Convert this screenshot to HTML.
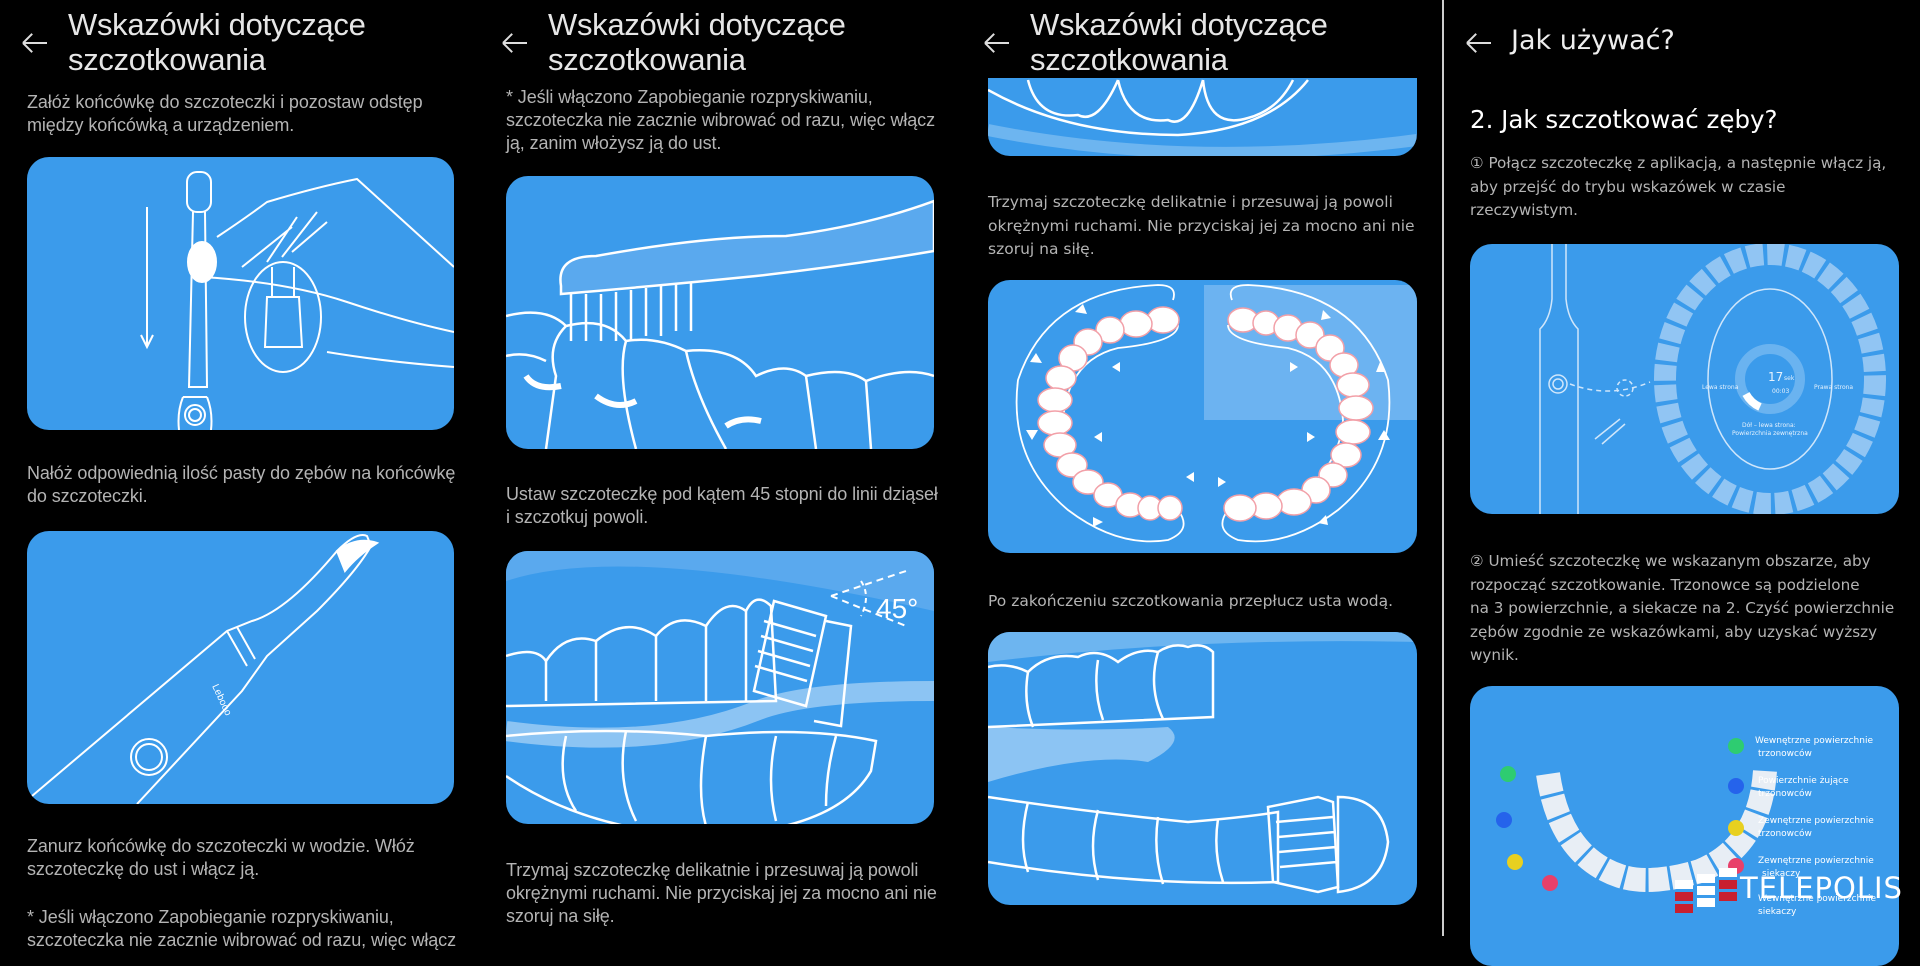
<!DOCTYPE html>
<html><head><meta charset="utf-8"><style>
*{margin:0;padding:0;box-sizing:border-box}
body{width:1920px;height:936px;background:#000;position:relative;overflow:hidden;font-family:"Liberation Sans",sans-serif}
.a{position:absolute;white-space:nowrap}
.t{color:#e6e6e6;font-size:31px;line-height:35px;letter-spacing:-0.3px}
.n{color:#b4b4b4;font-size:18px;line-height:23px;letter-spacing:-0.1px}
.w{color:#b4b4b4;font-family:"DejaVu Sans",sans-serif;font-size:15.5px;line-height:23.5px}
.c{position:absolute;background:#3b9beb;border-radius:22px;overflow:hidden}
.c svg{position:absolute;left:0;top:0}
.ar{position:absolute;width:24px;height:2px;background:#ddd}
.ar:before,.ar:after{content:"";position:absolute;left:0;width:13px;height:2px;background:#ddd;transform-origin:0 50%}
.ar:before{transform:rotate(-45deg)}.ar:after{transform:rotate(45deg)}
</style></head><body>

<!-- column 1 -->
<div class="ar" style="left:23px;top:42px"></div>
<div class="a t" style="left:68px;top:7px">Wskazówki dotyczące<br>szczotkowania</div>
<div class="a n" style="left:27px;top:91px">Załóż końcówkę do szczoteczki i pozostaw odstęp<br>między końcówką a urządzeniem.</div>
<div class="c" style="left:27px;top:157px;width:427px;height:273px">
<svg width="427" height="273" fill="none" stroke="#fff" stroke-width="2">
<path d="M120 50 V190 M114 178 L120 190 L126 178"/>
<rect x="160" y="15" width="24" height="40" rx="10"/>
<path d="M166 55 L162 230 H180 L178 55"/>
<path d="M156 240 Q150 255 152 273 M180 240 Q186 255 184 273 M156 240 H180"/>
<circle cx="168" cy="258" r="10"/><circle cx="168" cy="258" r="6"/>
<path d="M190 80 Q220 60 240 45 Q290 30 330 22 L427 110"/>
<path d="M215 110 Q240 90 265 70 M240 105 L270 60 M255 100 L290 55 M265 95 L300 65"/>
<path d="M175 120 Q260 125 320 145 Q380 165 427 175"/>
<path d="M300 195 Q360 205 427 210"/>
<ellipse cx="175" cy="105" rx="14" ry="20" fill="#fff"/>
<ellipse cx="256" cy="160" rx="38" ry="55"/>
<path d="M245 110 V140 M267 110 V140 M240 140 H272 L275 190 H238 Z"/>
</svg></div>
<div class="a n" style="left:27px;top:462px">Nałóż odpowiednią ilość pasty do zębów na końcówkę<br>do szczoteczki.</div>
<div class="c" style="left:27px;top:531px;width:427px;height:273px">
<svg width="427" height="273" fill="none" stroke="#fff" stroke-width="2">
<path d="M5 265 L200 100 L225 90 Q260 80 310 20 Q330 0 340 5 L344 15 Q330 40 290 80 L240 125 L215 160 L110 273"/>
<path d="M200 100 L220 135 M210 96 L228 128"/>
<circle cx="122" cy="226" r="18"/><circle cx="122" cy="226" r="13"/>
<path d="M310 20 Q330 5 350 12 Q330 25 318 40 Z" fill="#fff"/>
<text x="185" y="155" fill="#fff" stroke="none" font-size="10" transform="rotate(65 185 155)">Lebooo</text>
</svg></div>
<div class="a n" style="left:27px;top:835px">Zanurz końcówkę do szczoteczki w wodzie. Włóż<br>szczoteczkę do ust i włącz ją.</div>
<div class="a n" style="left:27px;top:906px">* Jeśli włączono Zapobieganie rozpryskiwaniu,<br>szczoteczka nie zacznie wibrować od razu, więc włącz</div>

<!-- column 2 -->
<div class="ar" style="left:503px;top:42px"></div>
<div class="a t" style="left:548px;top:7px">Wskazówki dotyczące<br>szczotkowania</div>
<div class="a n" style="left:506px;top:86px">* Jeśli włączono Zapobieganie rozpryskiwaniu,<br>szczoteczka nie zacznie wibrować od razu, więc włącz<br>ją, zanim włożysz ją do ust.</div>
<div class="c" style="left:506px;top:176px;width:428px;height:273px">
<svg width="428" height="273" fill="none" stroke="#fff" stroke-width="2.5">
<path d="M55 110 Q50 80 90 80 Q200 60 280 60 Q360 50 428 25 V75 Q340 90 250 100 Q150 110 55 118 Z" fill="#5aa9ee"/>
<path d="M65 118 V165 M80 118 V165 M95 118 V165 M110 116 V165 M125 114 V165 M140 112 V160 M155 110 V160 M170 108 V155 M185 106 V155"/>
<path d="M0 140 Q40 130 60 150 Q40 170 50 200 L40 273 M0 180 Q20 175 40 185"/>
<path d="M60 150 Q100 140 120 165 Q150 160 180 175 Q230 170 250 200 Q280 185 300 200 L310 273 M120 165 Q110 200 130 273 M180 175 Q190 220 220 273"/>
<path d="M300 200 Q340 190 360 205 Q400 190 428 200 M360 205 L365 273"/>
<path d="M20 200 Q30 215 55 210" stroke-width="6"/><path d="M90 220 Q110 235 130 225" stroke-width="6"/><path d="M220 250 Q235 240 255 245" stroke-width="6"/>
</svg></div>
<div class="a n" style="left:506px;top:483px">Ustaw szczoteczkę pod kątem 45 stopni do linii dziąseł<br>i szczotkuj powoli.</div>
<div class="c" style="left:506px;top:551px;width:428px;height:273px">
<svg width="428" height="273" fill="none" stroke="#fff" stroke-width="2.5">
<path d="M0 30 Q120 -10 428 60 V0 H0Z" fill="#5aa9ee" stroke="none"/>
<path d="M0 180 Q150 200 250 160 Q300 140 428 140" stroke="#8cc4f3" stroke-width="20"/>
<path d="M0 105 Q30 95 40 110 Q60 80 90 90 Q120 65 150 85 Q170 60 200 75 Q220 45 240 60 Q250 40 265 55 L270 150 L0 155"/>
<path d="M40 110 V150 M90 90 V150 M150 85 V150 M200 75 V150 M240 60 V150"/>
<path d="M0 185 Q100 175 200 185 Q300 175 370 190 L365 220 Q330 280 200 285 Q80 280 0 225"/>
<path d="M60 185 Q50 230 70 260 M120 180 Q110 230 130 270 M200 185 Q190 240 200 275 M270 185 Q260 230 270 270 M330 185 Q320 220 320 255"/>
<path d="M268 50 L248 140 L300 155 L320 65 Z M258 70 L310 85 M255 85 L307 100 M252 100 L304 115 M249 115 L301 130"/>
<path d="M320 70 L345 75 L335 175 L308 170"/>
<path d="M325 45 L400 20 M325 45 L400 75" stroke-dasharray="7 5" stroke-width="2"/>
<path d="M355 30 Q365 45 355 65" stroke-dasharray="5 4" stroke-width="2"/>
<text x="370" y="67" fill="#fff" stroke="none" font-size="28" font-family="Liberation Sans">45°</text>
</svg></div>
<div class="a n" style="left:506px;top:859px">Trzymaj szczoteczkę delikatnie i przesuwaj ją powoli<br>okrężnymi ruchami. Nie przyciskaj jej za mocno ani nie<br>szoruj na siłę.</div>

<!-- column 3 -->
<div class="c" style="left:988px;top:40px;width:429px;height:116px">
<svg width="429" height="116" fill="none" stroke="#fff" stroke-width="2.5">
<path d="M0 50 Q80 95 190 95 Q280 90 320 40" />
<path d="M40 40 Q50 80 90 75 Q110 85 130 40 M130 40 Q140 85 180 80 Q200 90 215 40 M215 40 Q220 90 260 78 Q290 70 305 40"/>
<path d="M0 90 Q200 130 429 100" stroke="#6db5f0" stroke-width="12"/>
</svg></div>
<div class="a" style="left:976px;top:0;width:450px;height:78px;background:#000"></div>
<div class="ar" style="left:985px;top:42px"></div>
<div class="a t" style="left:1030px;top:7px">Wskazówki dotyczące<br>szczotkowania</div>
<div class="a w" style="left:988px;top:191px">Trzymaj szczoteczkę delikatnie i przesuwaj ją powoli<br>okrężnymi ruchami. Nie przyciskaj jej za mocno ani nie<br>szoruj na siłę.</div>
<div class="c" style="left:988px;top:280px;width:429px;height:273px">
<svg width="429" height="273" fill="none" stroke="#fff" stroke-width="1.8">
<path d="M216 5 H429 V140 H216Z" fill="#79b9f2" stroke="none" opacity=".8"/>
<path d="M185 20 Q190 5 170 5 Q60 10 30 100 Q20 180 80 230 Q130 268 180 260 Q205 250 190 230 Q170 222 140 222 Q80 200 75 140 Q80 80 130 68 Q190 62 190 45"/>
<path d="M244 20 Q238 5 260 5 Q370 10 400 100 Q410 180 350 230 Q300 268 250 260 Q225 250 240 230 Q260 222 290 222 Q350 200 355 140 Q350 80 300 68 Q240 62 240 45"/>
<g fill="#fff" stroke="#f2a0a8" stroke-width="1.5">
<ellipse cx="175" cy="40" rx="16" ry="13"/><ellipse cx="148" cy="44" rx="16" ry="13"/><ellipse cx="122" cy="50" rx="14" ry="13"/><ellipse cx="100" cy="62" rx="14" ry="13"/><ellipse cx="85" cy="78" rx="14" ry="13"/><ellipse cx="73" cy="98" rx="15" ry="12"/><ellipse cx="67" cy="120" rx="17" ry="12"/><ellipse cx="67" cy="143" rx="17" ry="12"/><ellipse cx="72" cy="165" rx="16" ry="12"/><ellipse cx="84" cy="185" rx="15" ry="12"/><ellipse cx="100" cy="202" rx="15" ry="12"/><ellipse cx="120" cy="215" rx="14" ry="12"/><ellipse cx="142" cy="225" rx="14" ry="12"/><ellipse cx="162" cy="228" rx="12" ry="12"/><ellipse cx="182" cy="228" rx="12" ry="12"/>
<ellipse cx="255" cy="40" rx="15" ry="12"/><ellipse cx="278" cy="43" rx="13" ry="12"/><ellipse cx="300" cy="48" rx="14" ry="13"/><ellipse cx="322" cy="55" rx="14" ry="13"/><ellipse cx="342" cy="68" rx="14" ry="13"/><ellipse cx="356" cy="85" rx="14" ry="12"/><ellipse cx="365" cy="105" rx="16" ry="12"/><ellipse cx="368" cy="128" rx="17" ry="12"/><ellipse cx="365" cy="152" rx="17" ry="12"/><ellipse cx="358" cy="175" rx="15" ry="12"/><ellipse cx="345" cy="195" rx="14" ry="12"/><ellipse cx="328" cy="210" rx="14" ry="13"/><ellipse cx="306" cy="222" rx="17" ry="13"/><ellipse cx="278" cy="226" rx="16" ry="13"/><ellipse cx="252" cy="228" rx="16" ry="13"/>
</g>
<g fill="#fff" stroke="none"><path d="M87 32 l8 -8 l4 10z M42 82 l6 -9 l6 10z M38 150 l6 10 l6 -10z M105 237 l10 5 l-10 5z M124 87 l8 -5 v10z M106 157 l8 -5 v10z M198 197 l8 -5 v10z M335 30 l8 8 l-10 2z M392 82 l6 10 l-10 0z M390 160 l6 -10 l6 10z M340 245 l-10 -2 l8 -8z M310 87 l-8 -5 v10z M327 157 l-8 -5 v10z M230 197 l8 5 l-8 5z"/></g>
</svg></div>
<div class="a w" style="left:988px;top:590px">Po zakończeniu szczotkowania przepłucz usta wodą.</div>
<div class="c" style="left:988px;top:632px;width:429px;height:273px">
<svg width="429" height="273" fill="none" stroke="#fff" stroke-width="2.5">
<path d="M0 0 H429 V10 Q200 5 0 30Z" fill="#6db5f0" stroke="none"/>
<path d="M0 150 Q100 120 160 130 Q200 110 180 95 Q100 100 0 95Z" fill="#8cc4f3" stroke="none"/>
<path d="M0 35 Q20 30 40 40 Q60 20 90 25 Q110 15 130 30 Q150 15 170 20 Q185 10 200 15 Q215 10 225 20 L225 85 L0 95"/>
<path d="M40 40 Q35 70 45 95 M110 28 Q105 60 115 88 M170 20 Q160 55 175 87"/>
<path d="M0 165 Q100 180 200 190 Q260 185 290 180 L290 250 Q150 255 0 230"/>
<path d="M40 170 Q30 210 40 240 M110 178 Q100 215 110 248 M170 185 Q165 220 175 252 M230 187 Q225 220 235 250"/>
<path d="M280 175 L330 165 L345 170 L350 255 L330 260 L285 250 Z M288 190 L345 185 M290 205 L347 200 M291 220 L348 215 M292 235 L349 230"/>
<path d="M350 165 Q395 165 400 210 Q395 255 350 260 Z"/>
</svg></div>

<!-- divider -->
<div class="a" style="left:1442px;top:0;width:2px;height:936px;background:#ccc"></div>

<!-- column 4 -->
<div class="ar" style="left:1467px;top:42px"></div>
<div class="a" style="left:1511px;top:25px;color:#eee;font-family:'DejaVu Sans',sans-serif;font-size:27px">Jak używać?</div>
<div class="a" style="left:1470px;top:105px;color:#fff;font-family:'DejaVu Sans',sans-serif;font-size:24.5px">2. Jak szczotkować zęby?</div>
<div class="a w" style="left:1470px;top:152px;font-size:15.2px">① Połącz szczoteczkę z aplikacją, a następnie włącz ją,<br>aby przejść do trybu wskazówek w czasie<br>rzeczywistym.</div>
<div class="c" style="left:1470px;top:244px;width:429px;height:270px">
<svg width="429" height="270" fill="none" stroke="#cfe6fb" stroke-width="1.5">
<path d="M82 0 V55 Q80 75 70 85 V270 M96 0 V55 Q98 75 108 85 V270"/>
<circle cx="88" cy="140" r="9"/><circle cx="88" cy="140" r="5"/>
<path d="M100 140 Q140 155 180 138" stroke-dasharray="5 4"/>
<circle cx="155" cy="144" r="8" stroke-dasharray="4 3"/>
<ellipse cx="300" cy="135" rx="105" ry="125" stroke="#a7d0f5" stroke-width="22" stroke-dasharray="16 4" opacity=".8"/>
<ellipse cx="300" cy="135" rx="62" ry="90"/>
<circle cx="300" cy="135" r="30" stroke="#6ab3f0" stroke-width="10"/>
<path d="M276 150 A30 30 0 0 0 290 163" stroke="#fff" stroke-width="8"/>
<g fill="#e6f2fd" stroke="none" font-family="DejaVu Sans" font-size="6"><text x="298" y="137" font-size="12">17</text><text x="314" y="136">sek</text><text x="302" y="149">00:03</text><text x="232" y="145">Lewa strona</text><text x="344" y="145">Prawa strona</text><text x="272" y="183">Dół – lewa strona:</text><text x="262" y="191">Powierzchnia zewnętrzna</text></g>
<path d="M125 195 L150 175 M132 200 L155 180"/>
</svg></div>
<div class="a w" style="left:1470px;top:550px;font-size:15.2px">② Umieść szczoteczkę we wskazanym obszarze, aby<br>rozpocząć szczotkowanie. Trzonowce są podzielone<br>na 3 powierzchnie, a siekacze na 2. Czyść powierzchnie<br>zębów zgodnie ze wskazówkami, aby uzyskać wyższy<br>wynik.</div>
<div class="c" style="left:1470px;top:686px;width:429px;height:280px">
<svg width="429" height="260" fill="none">
<path d="M78 88 Q90 170 150 190 Q180 200 230 185 Q290 160 295 85" stroke="#e8eef5" stroke-width="24" stroke-dasharray="20 3"/>
<g font-family="DejaVu Sans" font-size="9" fill="#fff">
<circle cx="38" cy="88" r="8" fill="#2ecc71"/><circle cx="34" cy="134" r="8" fill="#2563eb"/><circle cx="45" cy="176" r="8" fill="#e8d020"/><circle cx="80" cy="197" r="8" fill="#e8406a"/>
<circle cx="266" cy="60" r="8" fill="#2ecc71"/><circle cx="266" cy="100" r="8" fill="#2563eb"/><circle cx="266" cy="142" r="8" fill="#e8d020"/><circle cx="266" cy="180" r="8" fill="#e8406a"/>
<text x="285" y="57">Wewnętrzne powierzchnie</text><text x="288" y="70">trzonowców</text>
<text x="288" y="97">Powierzchnie żujące</text><text x="288" y="110">trzonowców</text>
<text x="288" y="137">Zewnętrzne powierzchnie</text><text x="288" y="150">trzonowców</text>
<text x="288" y="177">Zewnętrzne powierzchnie</text><text x="292" y="190">siekaczy</text>
<text x="288" y="215">Wewnętrzne powierzchnie</text><text x="288" y="228">siekaczy</text>
</g></svg></div>

<!-- logo -->
<div class="a" style="left:1675px;top:866px">
<div style="position:absolute;left:0;top:14px;width:18px;height:9px;background:#fff"></div>
<div style="position:absolute;left:0;top:26px;width:18px;height:9px;background:#c8202f"></div>
<div style="position:absolute;left:0;top:38px;width:18px;height:9px;background:#c8202f"></div>
<div style="position:absolute;left:22px;top:8px;width:18px;height:9px;background:#fff"></div>
<div style="position:absolute;left:22px;top:20px;width:18px;height:9px;background:#fff"></div>
<div style="position:absolute;left:22px;top:32px;width:18px;height:9px;background:#fff"></div>
<div style="position:absolute;left:44px;top:2px;width:18px;height:9px;background:#fff"></div>
<div style="position:absolute;left:44px;top:14px;width:18px;height:9px;background:#c8202f"></div>
<div style="position:absolute;left:44px;top:26px;width:18px;height:9px;background:#c8202f"></div>
</div>
<div class="a" style="left:1740px;top:871px;color:#fff;font-family:'DejaVu Sans',sans-serif;font-size:29px;letter-spacing:1px">TELEPOLIS</div>
</body></html>
